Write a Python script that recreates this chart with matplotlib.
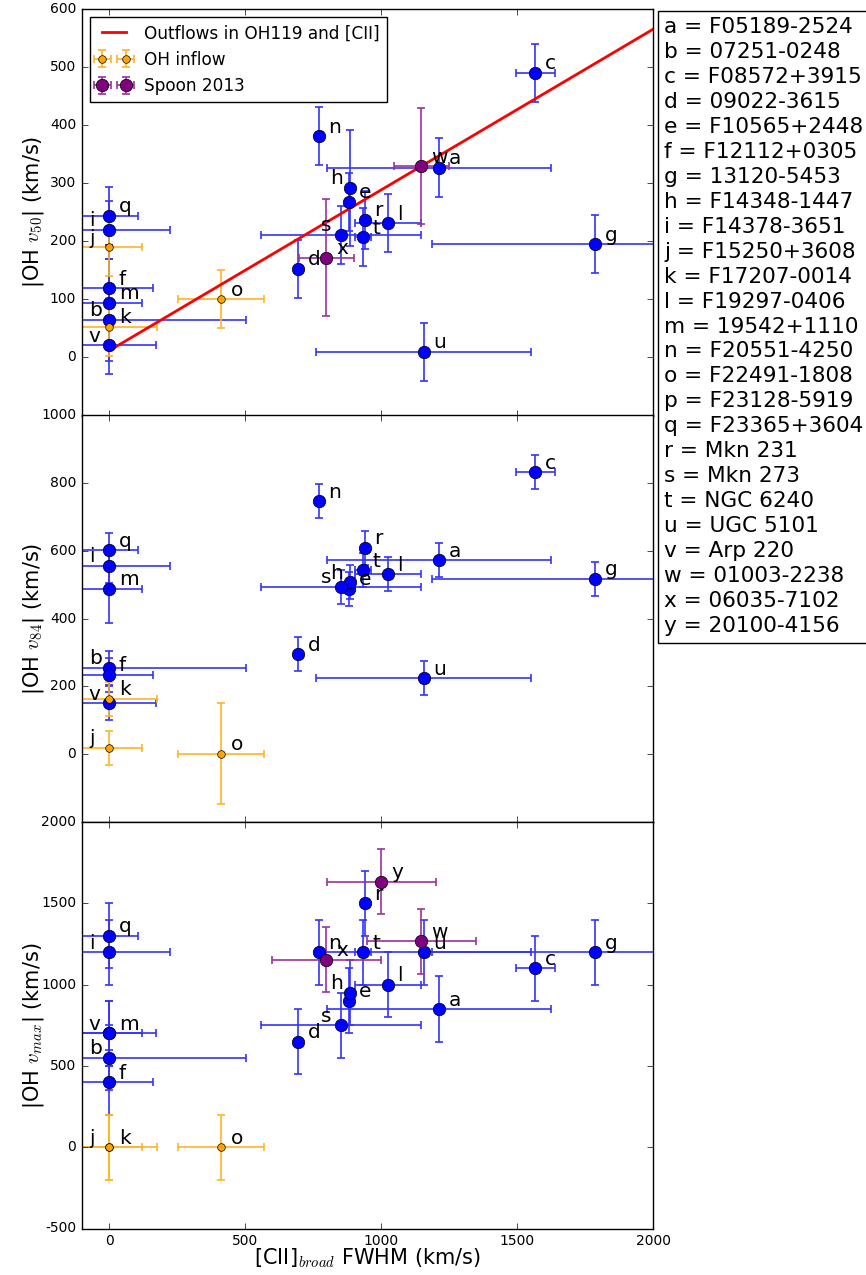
import numpy as np
import matplotlib
matplotlib.use('Agg')
import matplotlib.pyplot as plt

plt.style.use('classic')
plt.rcParams['figure.facecolor'] = 'white'
plt.rcParams['savefig.facecolor'] = 'white'
plt.rcParams['mathtext.fontset'] = 'cm'

# ---- outflow sources (OH119 + [CII]) ----
out_names = ['a', 'b', 'c', 'd', 'e', 'f', 'g', 'h', 'i', 'l', 'm', 'n',
             'q', 'r', 's', 't', 'u', 'v']
out_fwhm = [1212, 0, 1566, 694, 882, 0, 1787, 885, 0, 1024, 0, 770,
            0, 940, 851, 934, 1157, 0]
out_fwhm_err = [412, 503, 72, 0, 0, 162, 600, 0, 224, 121, 122, 0,
                108, 0, 294, 30, 395, 172]
out_v50 = [327, 65, 490, 153, 268, 119, 195, 292, 220, 231, 94, 381,
           244, 237, 211, 207, 10, 21]
out_v50_err = [50, 50, 50, 50, 50, 50, 50, 100, 50, 50, 100, 50,
               50, 50, 50, 50, 50, 50]
out_v84 = [573, 255, 832, 296, 489, 235, 518, 508, 556, 531, 488, 747,
           603, 610, 494, 543, 225, 150]
out_v84_err = [50, 50, 50, 50, 50, 50, 50, 50, 50, 50, 100, 50,
               50, 50, 50, 50, 50, 50]
out_vmax = [850, 550, 1100, 650, 900, 400, 1200, 950, 1200, 1000, 700, 1200,
            1300, 1500, 750, 1200, 1200, 700]
out_vmax_err = [200] * 18

# ---- OH inflow sources ----
in_names = ['j', 'k', 'o']
in_fwhm = [0, 0, 411]
in_fwhm_err = [122, 176, 158]
in_v50 = [190, 53, 100]
in_v50_err = [50, 50, 50]
in_v84 = [19, 164, 2]
in_v84_err = [50, 50, 150]
in_vmax = [0, 0, 0]
in_vmax_err = [200, 200, 200]

# ---- Spoon et al. 2013 ----
sp_names = ['w', 'x', 'y']
sp_fwhm = [1148, 799, 1000]
sp_fwhm_err_v50 = [100, 100, np.nan]
sp_v50 = [329, 172, np.nan]
sp_v50_err = [100, 100, np.nan]
sp_fwhm_err_vmax = [200, 200, 200]
sp_vmax = [1268, 1154, 1632]
sp_vmax_err = [200, 200, 200]

# linear relation for v50 vs [CII] FWHM
fit_intercept = 11.5
fit_slope = 0.277

# source key
key_ids = ['a', 'b', 'c', 'd', 'e', 'f', 'g', 'h', 'i', 'j', 'k', 'l', 'm',
           'n', 'o', 'p', 'q', 'r', 's', 't', 'u', 'v', 'w', 'x', 'y']
key_names = ['F05189-2524', '07251-0248', 'F08572+3915', '09022-3615',
             'F10565+2448', 'F12112+0305', '13120-5453', 'F14348-1447',
             'F14378-3651', 'F15250+3608', 'F17207-0014', 'F19297-0406',
             '19542+1110', 'F20551-4250', 'F22491-1808', 'F23128-5919',
             'F23365+3604', 'Mkn 231', 'Mkn 273', 'NGC 6240', 'UGC 5101',
             'Arp 220', '01003-2238', '06035-7102', '20100-4156']

left_labels = {'i', 'j', 'b', 'v', 's', 'h'}

W, H, DPI = 866, 1275, 100
fig = plt.figure(figsize=(W / DPI, H / DPI), dpi=DPI)
ax_l = 81.8 / W
ax_w = (653.4 - 81.8) / W
panel_h = 406.5 / H
bottoms = [1 - 415.5 / H, 1 - 822 / H, 1 - 1228.5 / H]
axes = [fig.add_axes([ax_l, b, ax_w, panel_h]) for b in bottoms]

LABEL_FS = 14.5
MS_BIG = 9
MS_SMALL = 5.5


def annotate(ax, names, xs, ys):
    for n, x, y in zip(names, xs, ys):
        if np.isnan(y):
            continue
        if n in left_labels:
            off = (-14.5, 2.5)
        else:
            off = (7, 2.5)
        ax.annotate(n, (x, y), xytext=off, textcoords='offset points',
                    fontsize=LABEL_FS, ha='left', va='baseline')


def draw_panel(ax, ov, oe, iv, ie, sv=None, se=None, sxe=None, fit=False):
    ax.errorbar(out_fwhm, ov, xerr=out_fwhm_err, yerr=oe, fmt='o',
                color='b', mfc='b', mec='k', ms=MS_BIG, ecolor=(0.2, 0.2, 1.0),
                elinewidth=1.2, capsize=3, capthick=1.2)
    ax.errorbar(in_fwhm, iv, xerr=in_fwhm_err, yerr=ie, fmt='o',
                color='orange', mfc='orange', mec='k', ms=MS_SMALL,
                ecolor=(1.0, 0.7, 0.15), elinewidth=1.2, capsize=3,
                capthick=1.2, label='OH inflow')
    if fit:
        xf = np.linspace(0, 2100, 50)
        ax.plot(xf, fit_intercept + fit_slope * xf, color='r', lw=2,
                label='Outflows in OH119 and [CII]')
    if sv is not None:
        ax.errorbar(sp_fwhm, sv, xerr=sxe, yerr=se, fmt='o',
                    color='purple', mfc='purple', mec='k', ms=MS_BIG,
                    ecolor=(0.6, 0.2, 0.6), elinewidth=1.2, capsize=3,
                    capthick=1.2, label='Spoon 2013')
    annotate(ax, out_names, out_fwhm, ov)
    annotate(ax, in_names, in_fwhm, iv)
    if sv is not None:
        annotate(ax, sp_names, sp_fwhm, sv)


draw_panel(axes[0], out_v50, out_v50_err, in_v50, in_v50_err,
           sp_v50, sp_v50_err, sp_fwhm_err_v50, fit=True)
draw_panel(axes[1], out_v84, out_v84_err, in_v84, in_v84_err)
draw_panel(axes[2], out_vmax, out_vmax_err, in_vmax, in_vmax_err,
           sp_vmax, sp_vmax_err, sp_fwhm_err_vmax)

ylims = [(-100, 600), (-200, 1000), (-500, 2000)]
ysteps = [100, 200, 500]
ylabels = [r'|OH $v_{50}$| (km/s)', r'|OH $v_{84}$| (km/s)',
           r'|OH $v_{max}$| (km/s)']
for k, ax in enumerate(axes):
    ax.set_xlim(-100, 2000)
    ax.set_ylim(*ylims[k])
    ax.set_xticks([0, 500, 1000, 1500, 2000])
    ticks = np.arange(ylims[k][0], ylims[k][1] + 1, ysteps[k])
    ax.set_yticks(ticks)
    labels = [str(t) for t in ticks]
    if k < 2:
        labels[0] = ''
        ax.set_xticklabels([])
    ax.set_yticklabels(labels)
    ax.tick_params(labelsize=10)
    ax.set_ylabel(ylabels[k], fontsize=15)
    ax.yaxis.set_label_coords(-0.062, 0.5)

axes[2].set_xlabel(r'[CII]$_{broad}$ FWHM (km/s)', fontsize=15)
axes[2].xaxis.set_label_coords(0.5, -0.044)

handles, labels = axes[0].get_legend_handles_labels()
order = [labels.index('Outflows in OH119 and [CII]'),
         labels.index('OH inflow'), labels.index('Spoon 2013')]
axes[0].legend([handles[i] for i in order], [labels[i] for i in order],
               loc='upper left', fontsize=12.2, numpoints=2)

key_text = '\n'.join(f'{i} = {n}' for i, n in zip(key_ids, key_names))
fig.text(664 / W, 1 - 17 / H, key_text, fontsize=15.6, va='top', ha='left',
         linespacing=1.31,
         bbox=dict(boxstyle='square,pad=0.3', fc='white', ec='black'))

fig.savefig('out.png', dpi=DPI)
